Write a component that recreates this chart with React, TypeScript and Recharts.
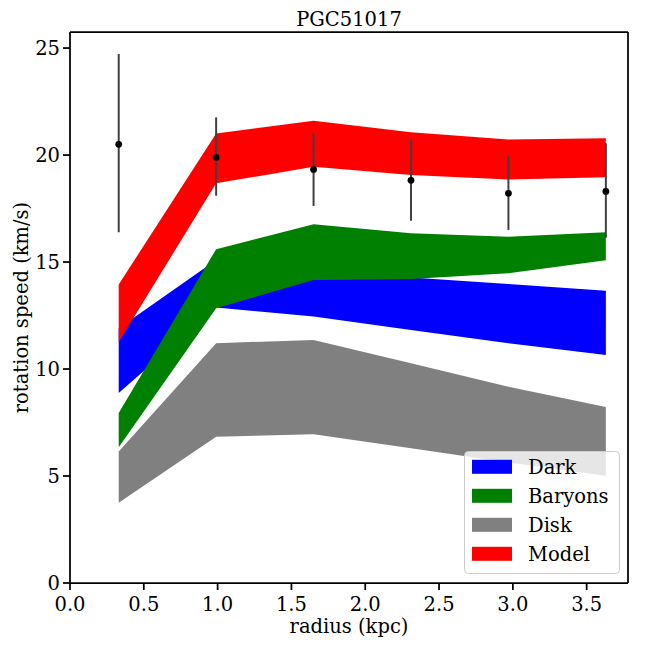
import React from 'react';
import { ComposedChart, Area, Scatter, ErrorBar, XAxis, YAxis, Legend, ReferenceLine } from 'recharts';

const radius = [0.33, 0.99, 1.65, 2.31, 2.97, 3.63];
const speed = [20.5, 19.89, 19.33, 18.82, 18.21, 18.3];
const speedTop = [24.72, 21.76, 21.01, 20.73, 19.95, 20.55];
const speedBottom = [16.39, 18.1, 17.62, 16.93, 16.5, 16.14];

const darkLow = [8.88, 12.87, 12.45, 11.82, 11.2, 10.65];
const darkHigh = [11.9, 15.1, 14.6, 14.28, 13.97, 13.66];
const baryonsLow = [6.34, 12.84, 14.16, 14.21, 14.47, 15.08];
const baryonsHigh = [7.95, 15.6, 16.76, 16.34, 16.18, 16.39];
const diskLow = [3.75, 6.84, 6.95, 6.3, 5.63, 5.01];
const diskHigh = [6.14, 11.21, 11.36, 10.27, 9.17, 8.22];
const modelLow = [11.26, 18.68, 19.45, 19.07, 18.86, 18.96];
const modelHigh = [13.95, 21.01, 21.6, 21.06, 20.73, 20.78];

const xTicks = [0, 0.5, 1.0, 1.5, 2.0, 2.5, 3.0, 3.5];
const yTicks = [0, 5, 10, 15, 20, 25];
const xMax = 3.78;
const yMax = 25.75;
const seriesNames = ['Dark', 'Baryons', 'Disk', 'Model'];
const seriesKeys = ['dark', 'baryons', 'disk', 'model'];
const seriesColors = ['#0000ff', '#008000', '#808080', '#ff0000'];

const data = radius.map((r, i) => ({
  r,
  dark: [darkLow[i], darkHigh[i]],
  baryons: [baryonsLow[i], baryonsHigh[i]],
  disk: [diskLow[i], diskHigh[i]],
  model: [modelLow[i], modelHigh[i]],
  speed: speed[i],
  err: [speed[i] - speedBottom[i], speedTop[i] - speed[i]],
}));

const FONT = "'DejaVu Serif', 'Liberation Serif', serif";
const FS = 19.5;

const LegendBox = () => (
  <svg width={157} height={124} style={{ display: 'block', overflow: 'visible' }}>
    <rect x={0.5} y={0.5} width={155} height={122} rx={4} ry={4} fill="#ffffff" fillOpacity={0.8} stroke="#cccccc" strokeWidth={1} />
    {seriesNames.map((name, i) => {
      const cy = 15.8 + i * 29;
      return (
        <g key={name}>
          <rect x={8} y={cy - 7} width={40} height={14} fill={seriesColors[i]} />
          <text x={64} y={cy + 7} style={{ fontFamily: FONT, fontSize: FS }} fill="#000">{name}</text>
        </g>
      );
    })}
  </svg>
);

const axisLine = { stroke: '#000', strokeWidth: 1.75 };
const tickStyle = { fill: '#000', fontSize: FS, fontFamily: FONT, style: { fontFamily: FONT } };

export default function App() {
  return (
    <div style={{ position: 'absolute', left: 0, top: 0, width: 648, height: 648, background: '#fff', fontFamily: FONT }}>
      <ComposedChart width={648} height={648} data={data} margin={{ top: 32, right: 20, left: 0, bottom: 0 }} style={{ fontFamily: FONT }}>
        <XAxis
          dataKey="r"
          type="number"
          domain={[0, xMax]}
          ticks={xTicks}
          tickFormatter={(v: number) => v.toFixed(1)}
          height={65}
          tickSize={7}
          tickMargin={7}
          axisLine={axisLine}
          tickLine={axisLine}
          tick={tickStyle}
          allowDataOverflow
          label={{
            content: (p: any) => {
              const vb = p.viewBox || { x: 70, y: 583, width: 558, height: 65 };
              return (
                <text x={vb.x + vb.width / 2} y={vb.y + 50} textAnchor="middle" style={{ fontFamily: FONT, fontSize: FS }} fill="#000">
                  radius (kpc)
                </text>
              );
            },
          }}
        />
        <YAxis
          type="number"
          domain={[0, yMax]}
          ticks={yTicks}
          width={70}
          tickSize={7}
          tickMargin={3}
          axisLine={axisLine}
          tickLine={axisLine}
          tick={tickStyle}
          allowDataOverflow
          label={{
            content: (p: any) => {
              const vb = p.viewBox || { x: 0, y: 32, width: 70, height: 551 };
              const cx = vb.x + 27.5;
              const cy = vb.y + vb.height / 2;
              return (
                <text x={cx} y={cy} transform={`rotate(-90, ${cx}, ${cy})`} textAnchor="middle" style={{ fontFamily: FONT, fontSize: FS }} fill="#000">
                  rotation speed (km/s)
                </text>
              );
            },
          }}
        />
        {seriesKeys.map((k, i) => (
          <Area
            key={k}
            type="linear"
            dataKey={k}
            name={seriesNames[i]}
            fill={seriesColors[i]}
            fillOpacity={1}
            stroke="none"
            dot={false}
            activeDot={false}
            isAnimationActive={false}
          />
        ))}
        <Scatter
          dataKey="speed"
          fill="#000"
          isAnimationActive={false}
          shape={(p: any) => <circle cx={p.cx} cy={p.cy} r={3.4} fill="#000" />}
        >
          <ErrorBar dataKey="err" direction="y" width={0} stroke="#404040" strokeWidth={2} />
        </Scatter>
        <ReferenceLine
          y={yMax}
          stroke="#000"
          strokeWidth={1.75}
          ifOverflow="visible"
          label={{
            content: (p: any) => {
              const vb = p.viewBox || { x: 70, y: 32, width: 558, height: 0 };
              return (
                <text x={vb.x + vb.width / 2} y={vb.y - 6} textAnchor="middle" style={{ fontFamily: FONT, fontSize: FS }} fill="#000">
                  PGC51017
                </text>
              );
            },
          }}
        />
        <ReferenceLine x={xMax} stroke="#000" strokeWidth={1.75} ifOverflow="visible" />
        <Legend
          layout="vertical"
          align="center"
          verticalAlign="middle"
          wrapperStyle={{ position: 'absolute', left: 464, top: 451, width: 157, height: 124 }}
          content={() => <LegendBox />}
        />
      </ComposedChart>
    </div>
  );
}
